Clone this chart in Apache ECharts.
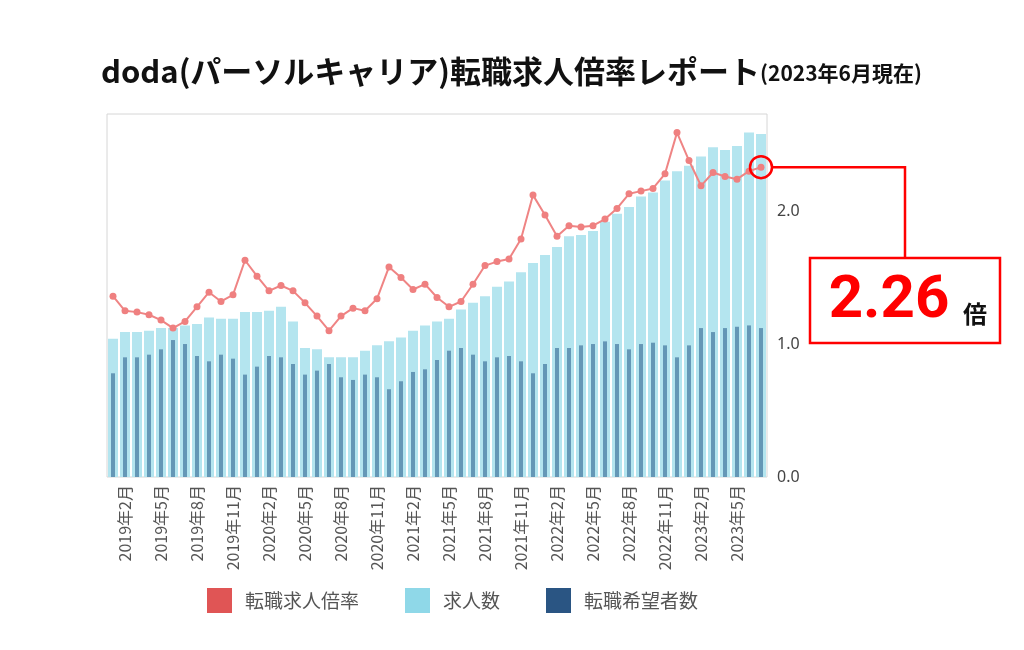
<!DOCTYPE html>
<html lang="ja">
<head>
<meta charset="utf-8">
<title>doda 転職求人倍率レポート</title>
<script src="https://cdn.jsdelivr.net/npm/echarts@6/dist/echarts.min.js"></script>
<style>
  html, body { margin: 0; padding: 0; background: #fff; }
  #chart { width: 1024px; height: 650px; }
</style>
</head>
<body>
<div id="chart"></div>
<script>
// 月（2019年1月〜2023年7月）
const months = [
  '2019年1月','2019年2月','2019年3月','2019年4月','2019年5月','2019年6月','2019年7月','2019年8月','2019年9月','2019年10月','2019年11月','2019年12月',
  '2020年1月','2020年2月','2020年3月','2020年4月','2020年5月','2020年6月','2020年7月','2020年8月','2020年9月','2020年10月','2020年11月','2020年12月',
  '2021年1月','2021年2月','2021年3月','2021年4月','2021年5月','2021年6月','2021年7月','2021年8月','2021年9月','2021年10月','2021年11月','2021年12月',
  '2022年1月','2022年2月','2022年3月','2022年4月','2022年5月','2022年6月','2022年7月','2022年8月','2022年9月','2022年10月','2022年11月','2022年12月',
  '2023年1月','2023年2月','2023年3月','2023年4月','2023年5月','2023年6月','2023年7月'
];

// 転職求人倍率（折れ線）
const ratio = [
  1.36, 1.25, 1.24, 1.22, 1.18, 1.12, 1.17, 1.28, 1.39, 1.32, 1.37, 1.63,
  1.51, 1.40, 1.44, 1.40, 1.31, 1.21, 1.10, 1.21, 1.27, 1.25, 1.34, 1.58,
  1.50, 1.41, 1.45, 1.35, 1.28, 1.32, 1.45, 1.59, 1.62, 1.64, 1.79, 2.12,
  1.97, 1.81, 1.89, 1.88, 1.89, 1.94, 2.02, 2.13, 2.15, 2.17, 2.28, 2.59,
  2.38, 2.19, 2.29, 2.26, 2.24, 2.30, 2.33
];

// 求人数（指数・薄い棒）
const jobs = [
  1.04, 1.09, 1.09, 1.10, 1.12, 1.12, 1.14, 1.15, 1.20, 1.19, 1.19, 1.24,
  1.24, 1.25, 1.28, 1.17, 0.97, 0.96, 0.90, 0.90, 0.90, 0.95, 0.99, 1.02,
  1.05, 1.10, 1.14, 1.17, 1.19, 1.26, 1.31, 1.36, 1.43, 1.47, 1.54, 1.61,
  1.67, 1.73, 1.81, 1.82, 1.85, 1.92, 1.98, 2.03, 2.11, 2.14, 2.23, 2.30,
  2.34, 2.41, 2.48, 2.46, 2.49, 2.59, 2.58
];

// 転職希望者数（指数・濃い棒）
const seekers = [
  0.78, 0.90, 0.90, 0.92, 0.96, 1.03, 1.00, 0.91, 0.87, 0.92, 0.89, 0.77,
  0.83, 0.91, 0.90, 0.85, 0.77, 0.80, 0.85, 0.75, 0.73, 0.77, 0.75, 0.66,
  0.72, 0.79, 0.81, 0.88, 0.95, 0.97, 0.92, 0.87, 0.90, 0.91, 0.87, 0.78,
  0.85, 0.97, 0.97, 0.99, 1.00, 1.02, 1.00, 0.96, 1.00, 1.01, 0.99, 0.90,
  0.99, 1.12, 1.09, 1.12, 1.13, 1.14, 1.12
];

const yTicks = [0, 1, 2];
const highlightLabel = '2.26';

const JP = '"Noto Sans CJK JP", "Noto Sans", sans-serif';

const chart = echarts.init(document.getElementById('chart'));

const option = {
  backgroundColor: '#fff',
  animation: false,
  title: {
    text: '{a|doda(パーソルキャリア)転職求人倍率レポート}{b|(2023年6月現在)}',
    left: 96,
    top: 44,
    textStyle: {
      rich: {
        a: { fontFamily: JP, fontSize: 31, fontWeight: 'bold', color: '#111', lineHeight: 38, verticalAlign: 'bottom' },
        b: { fontFamily: JP, fontSize: 21, fontWeight: 'bold', color: '#111', lineHeight: 38, verticalAlign: 'bottom', padding: [0, 0, 3, 0] }
      }
    }
  },
  legend: {
    left: 207,
    top: 588,
    padding: 0,
    icon: 'rect',
    itemWidth: 25,
    itemHeight: 25,
    itemGap: 46,
    textStyle: { fontFamily: JP, fontSize: 19, color: '#555', padding: [0, 0, 0, 8] },
    data: [
      { name: '転職求人倍率', itemStyle: { color: '#e05555' } },
      { name: '求人数', itemStyle: { color: '#8fd8e8' } },
      { name: '転職希望者数', itemStyle: { color: '#2a5583' } }
    ]
  },
  grid: {
    left: 107,
    right: 257,
    top: 114,
    bottom: 173,
    show: true,
    borderColor: '#d6d6d6',
    borderWidth: 1
  },
  xAxis: [
    {
      type: 'category',
      data: months,
      axisLine: { show: false },
      axisTick: { show: false },
      axisLabel: {
        rotate: 90,
        interval: (idx) => idx % 3 === 1,
        fontFamily: JP,
        fontSize: 16,
        color: '#555',
        margin: 8
      }
    },
    {
      type: 'category',
      data: months,
      show: false
    }
  ],
  yAxis: {
    type: 'value',
    position: 'right',
    min: 0,
    max: 2.73,
    interval: 1,
    splitLine: { show: false },
    axisLine: { show: false },
    axisTick: { show: false },
    axisLabel: {
      showMaxLabel: false,
      margin: 10,
      fontFamily: '"Noto Sans", sans-serif',
      fontSize: 16,
      color: '#444',
      formatter: (v) => (yTicks.indexOf(v) >= 0 ? v.toFixed(1) : '')
    }
  },
  series: [
    {
      name: '転職求人倍率',
      type: 'line',
      data: ratio,
      z: 5,
      symbol: 'circle',
      symbolSize: 7,
      lineStyle: { color: '#ef8484', width: 2 },
      itemStyle: { color: '#ef8080' }
    },
    {
      name: '求人数',
      type: 'bar',
      data: jobs,
      xAxisIndex: 0,
      barWidth: 10,
      itemStyle: { color: '#b4e5ef' }
    },
    {
      name: '転職希望者数',
      type: 'bar',
      data: seekers,
      xAxisIndex: 1,
      barWidth: 4,
      z: 3,
      itemStyle: { color: '#6497b6' }
    }
  ]
};

chart.setOption(option);

// 最新値の強調（円＋引き出し線＋ボックス）
const last = ratio.length - 1;
const pt = chart.convertToPixel({ seriesIndex: 0 }, [last, ratio[last]]);
const cx = pt[0], cy = pt[1];
const boxX = 810, boxY = 258, boxW = 190, boxH = 85;
const elbowX = 905;

chart.setOption({
  graphic: [
    {
      type: 'circle',
      z: 100,
      shape: { cx: cx, cy: cy, r: 11 },
      style: { fill: 'none', stroke: '#ff0000', lineWidth: 2.5 }
    },
    {
      type: 'polyline',
      z: 100,
      shape: { points: [[cx + 11, cy], [elbowX, cy], [elbowX, boxY]] },
      style: { fill: 'none', stroke: '#ff0000', lineWidth: 2.5 }
    },
    {
      type: 'rect',
      z: 100,
      shape: { x: boxX, y: boxY, width: boxW, height: boxH },
      style: { fill: '#fff', stroke: '#ff0000', lineWidth: 2.5 }
    },
    {
      type: 'text',
      z: 101,
      style: {
        x: 889, y: 302,
        text: highlightLabel,
        fill: '#ff0000',
        font: 'bold 60px Roboto, "Noto Sans", sans-serif',
        align: 'center',
        verticalAlign: 'middle'
      }
    },
    {
      type: 'text',
      z: 101,
      style: {
        x: 975, y: 314,
        text: '倍',
        fill: '#111',
        font: 'bold 24px "Noto Sans CJK JP", sans-serif',
        align: 'center',
        verticalAlign: 'middle'
      }
    }
  ]
});
</script>
</body>
</html>
